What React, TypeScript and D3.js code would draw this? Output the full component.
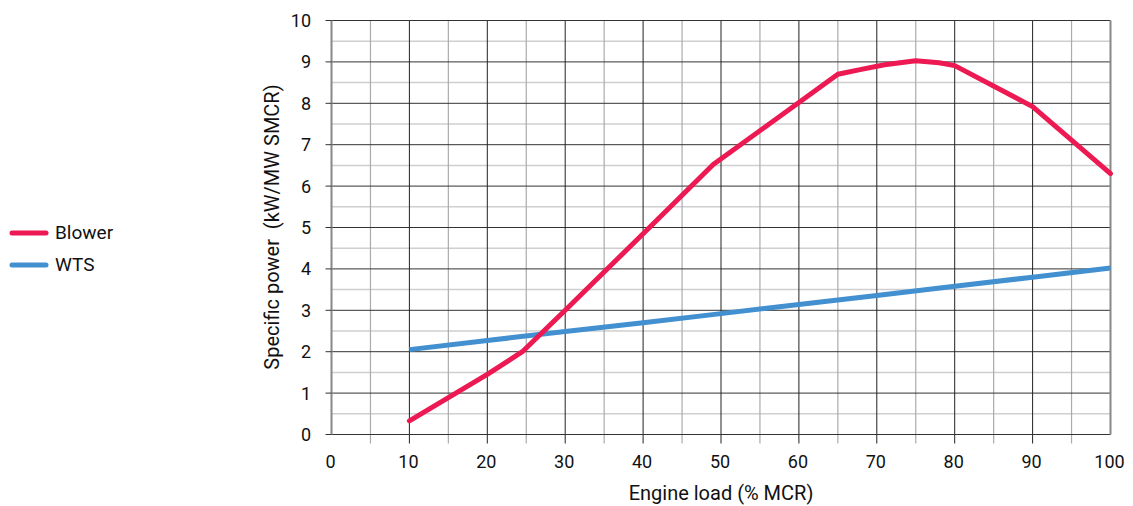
import React from "react";
import * as d3 from "d3";

// engine load (% MCR) and specific power (kW/MW SMCR)
const blowerLoad = [10, 20, 24.5, 30, 40, 49, 60, 65, 68, 71, 75, 78, 80, 90, 100];
const blowerPower = [0.33, 1.45, 2.0, 3.0, 4.85, 6.52, 8.02, 8.7, 8.82, 8.93, 9.03, 8.98, 8.91, 7.92, 6.3];
const wtsLoad = [10, 20, 30, 40, 50, 60, 70, 80, 90, 100];
const wtsPower = [2.05, 2.27, 2.49, 2.7, 2.92, 3.14, 3.36, 3.58, 3.8, 4.02];
const xTicks = [0, 10, 20, 30, 40, 50, 60, 70, 80, 90, 100];
const yTicks = [0, 1, 2, 3, 4, 5, 6, 7, 8, 9, 10];

const FONT = "'Roboto', 'Liberation Sans', sans-serif";
const RED = "#ec1952";
const BLUE = "#4390d0";

export default function App() {
  const width = 1133, height = 506;
  const x = d3.scaleLinear().domain([0, 100]).range([331.5, 1110.5]);
  const y = d3.scaleLinear().domain([0, 10]).range([434.5, 20.5]);

  const line = d3.line<[number, number]>()
    .x(d => x(d[0]))
    .y(d => y(d[1]))
    .curve(d3.curveLinear);

  const blowerPts = blowerLoad.map((l, i) => [l, blowerPower[i]] as [number, number]);
  const wtsPts = wtsLoad.map((l, i) => [l, wtsPower[i]] as [number, number]);

  const minorX = d3.range(5, 100, 10);
  const majorX = d3.range(10, 100, 10);
  const minorY = d3.range(0.5, 10, 1);
  const majorY = d3.range(1, 10, 1);

  return (
    <svg width={width} height={height} style={{ position: "absolute", left: 0, top: 0, background: "#fff" }}
      fontFamily={FONT}>
      {/* minor grid */}
      {minorY.map(v => (
        <line key={"my" + v} x1={x(0)} x2={x(100)} y1={y(v)} y2={y(v)} stroke="#cfcfcf" strokeWidth={1.5} />
      ))}
      {minorX.map(v => (
        <line key={"mx" + v} x1={x(v)} x2={x(v)} y1={y(10)} y2={y(0) + 9} stroke="#ababab" strokeWidth={1.2} />
      ))}
      {/* major grid */}
      {majorY.map(v => (
        <line key={"Ay" + v} x1={x(0)} x2={x(100)} y1={y(v)} y2={y(v)} stroke="#333" strokeWidth={1} />
      ))}
      {majorX.map(v => (
        <line key={"Ax" + v} x1={x(v)} x2={x(v)} y1={y(10)} y2={y(0) + 9} stroke="#222" strokeWidth={1} />
      ))}
      {/* frame */}
      <line x1={x(0)} x2={x(100)} y1={y(10)} y2={y(10)} stroke="#333" strokeWidth={1} />
      <line x1={x(0)} x2={x(100)} y1={y(0)} y2={y(0)} stroke="#333" strokeWidth={1.2} />
      <line x1={x(0)} x2={x(0)} y1={y(10)} y2={y(0)} stroke="#888" strokeWidth={2} />
      <line x1={x(100)} x2={x(100)} y1={y(10)} y2={y(0)} stroke="#888" strokeWidth={2} />
      {yTicks.map(v => (
        <line key={"ty" + v} x1={x(0) - 6} x2={x(0)} y1={y(v)} y2={y(v)} stroke="#333" strokeWidth={1} />
      ))}

      {/* series */}
      <path d={line(wtsPts) || ""} fill="none" stroke={BLUE} strokeWidth={5} />
      <path d={line(blowerPts) || ""} fill="none" stroke={RED} strokeWidth={5} strokeLinejoin="round" strokeLinecap="round" />

      {/* tick labels */}
      {yTicks.map(v => (
        <text key={"ly" + v} x={311} y={y(v) + 6.5} textAnchor="end" fontSize={18} fill="#111">{v}</text>
      ))}
      {xTicks.map(v => (
        <text key={"lx" + v} x={x(v) - 1} y={468} textAnchor="middle" fontSize={18} fill="#111">{v}</text>
      ))}

      {/* axis titles */}
      <text x={x(50)} y={500} textAnchor="middle" fontSize={20} fill="#111">Engine load (% MCR)</text>
      <text transform={`translate(279,227) rotate(-90)`} textAnchor="middle" fontSize={20} fill="#111"
        style={{ whiteSpace: "pre" }}>Specific power  (kW/MW SMCR)</text>

      {/* legend */}
      <line x1={12} x2={46} y1={233} y2={233} stroke={RED} strokeWidth={5} strokeLinecap="round" />
      <text x={55} y={239} fontSize={19} fill="#111">Blower</text>
      <line x1={12} x2={46} y1={265} y2={265} stroke={BLUE} strokeWidth={5} strokeLinecap="round" />
      <text x={55} y={271} fontSize={19} fill="#111">WTS</text>
    </svg>
  );
}
